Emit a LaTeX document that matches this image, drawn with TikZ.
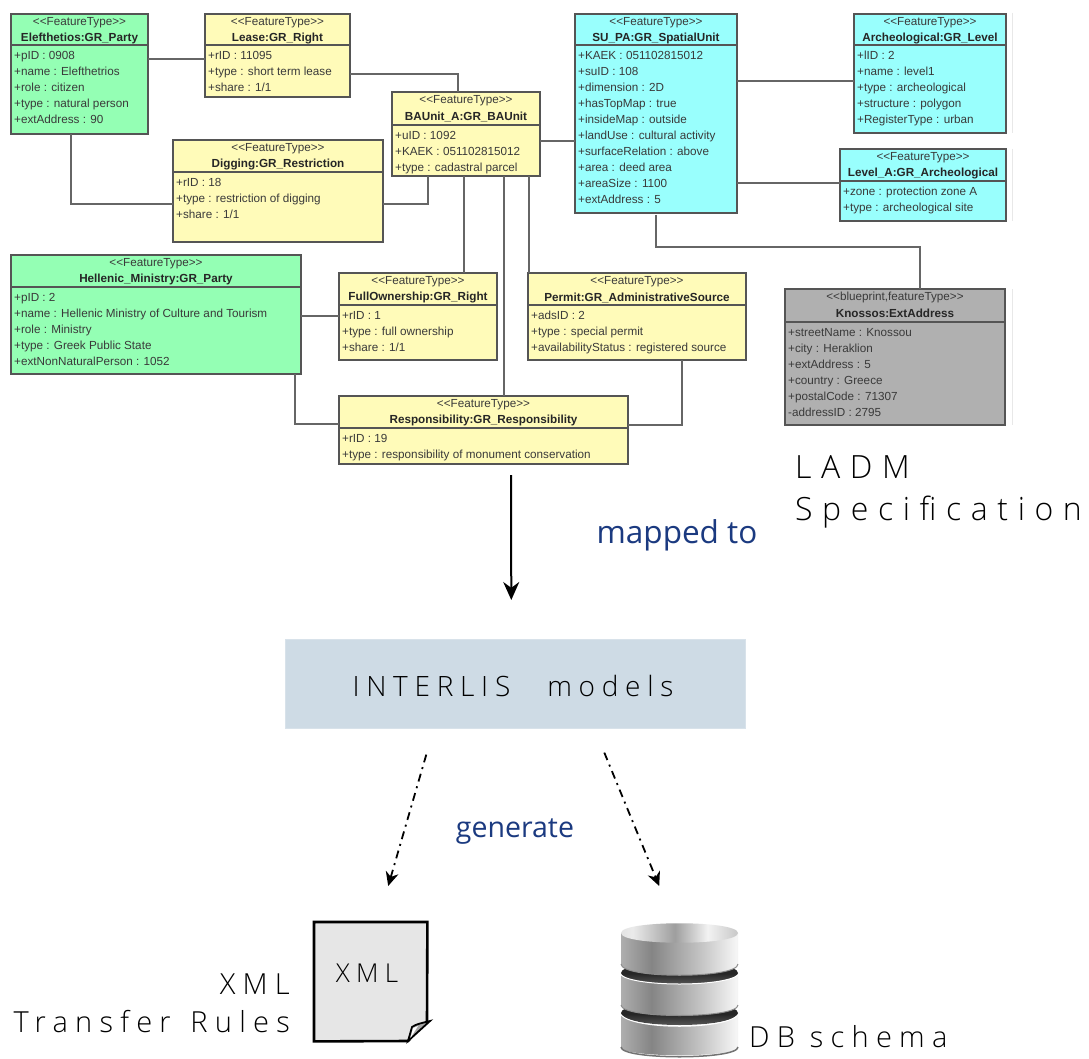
\documentclass[tikz,border=0pt]{standalone}
\usepackage{fontspec}
\setmainfont{Liberation Sans}
\newfontfamily\wideA[LetterSpace=30]{Open Sans Light}
\newfontfamily\wideB[LetterSpace=24]{Open Sans Light}
\newfontfamily\wideC[LetterSpace=25]{Open Sans Light}
\newfontfamily\plainblue{Open Sans}
\usetikzlibrary{arrows.meta,calc}
\definecolor{partyfill}{HTML}{94FFB4}
\definecolor{rightfill}{HTML}{FFFBB9}
\definecolor{spacefill}{HTML}{99FFFD}
\definecolor{addrfill}{HTML}{B0B0B0}
\definecolor{modelfill}{HTML}{CEDBE5}
\definecolor{linkgray}{HTML}{666666}
\definecolor{boxedge}{HTML}{555555}
\definecolor{attrtext}{HTML}{3A3A3A}
\definecolor{navytext}{HTML}{1B3A80}
\definecolor{docfill}{HTML}{E6E6E6}
\pgfdeclarehorizontalshading{dbside}{100bp}{
  color(0bp)=(white!88!black); color(22bp)=(white!72!black); color(38bp)=(white!52!black);
  color(60bp)=(white!78!black); color(74bp)=(white!96!black); color(90bp)=(white!86!black); color(100bp)=(white!60!black)}
\pgfdeclarehorizontalshading{dbtop}{100bp}{
  color(0bp)=(white!75!black); color(30bp)=(white!92!black); color(48bp)=(white!62!black);
  color(62bp)=(white!95!black); color(80bp)=(white!72!black); color(100bp)=(white!85!black)}
\pgfdeclareverticalshading{dbgap}{100bp}{
  color(0bp)=(black!35); color(50bp)=(black!85); color(100bp)=(black!85)}
\tikzset{
  uml/.style={draw=boxedge,line width=1.2pt,anchor=north west,inner sep=0pt,outer sep=0pt},
  stereo/.style={inner sep=0pt,text=attrtext,font=\fontsize{11.7}{14}\selectfont},
  umltitle/.style={inner sep=0pt,text=black!85,font=\fontsize{11.7}{14}\selectfont\bfseries},
  attrs/.style={inner sep=0pt,anchor=north west,align=left,text=attrtext,font=\fontsize{11.7}{16}\selectfont},
  link/.style={draw=linkgray,line width=1.3pt},
  flow/.style={draw=black,line width=2pt,-{Stealth[length=18pt,width=16pt]}},
  gen/.style={draw=black,line width=1.8pt,dash pattern=on 8pt off 5pt on 2pt off 5pt,-{Stealth[length=14pt,width=13pt]}},
  bigtext/.style={inner sep=0pt,anchor=west,text=black},
  bluetext/.style={inner sep=0pt,text=navytext},
  fainted/.style={draw=black!9,line width=1pt}
}
\newcommand{\umlbox}[9]{%
  \node[uml,fill=#6,minimum width=#3pt,minimum height=#4pt] (#1) at (#2) {};
  \draw[boxedge,line width=1.2pt] ([yshift=-#5pt]#1.north west) -- ([yshift=-#5pt]#1.north east);
  \node[stereo] (#1-s) at ([yshift=-8.5pt]#1.north) {#7};
  \node[umltitle] (#1-t) at ([yshift=-24.5pt]#1.north) {#8};
  \node[attrs] (#1-a) at ([xshift=3pt,yshift={-#5pt-3.3pt}]#1.north west) {\strut#9};
}
\begin{document}
\begin{tikzpicture}[x=1pt,y=-1pt]
\useasboundingbox (0,0) rectangle (1089,1059);
\fill[white] (0,0) rectangle (1089,1059);
\draw[fainted] (1012,13) -- (1012,133);
\draw[fainted] (1012,149) -- (1012,221);
\draw[fainted] (1012,289) -- (1012,425);

\umlbox{elef}{11,14}{137}{120}{31}{partyfill}{<{}<FeatureType>{}>}{Elefthetios:GR\_Party}{+pID : 0908\\+name : Elefthetrios\\+role : citizen\\+type : natural person\\+extAddress : 90}
\umlbox{lease}{205,14}{145}{83}{31}{rightfill}{<{}<FeatureType>{}>}{Lease:GR\_Right}{+rID : 11095\\+type : short term lease\\+share : 1/1}
\umlbox{dig}{173,140}{210}{102}{32}{rightfill}{<{}<FeatureType>{}>}{Digging:GR\_Restriction}{+rID : 18\\+type : restriction of digging\\+share : 1/1}
\umlbox{ba}{392,92}{148}{84}{33}{rightfill}{<{}<FeatureType>{}>}{BAUnit\_A:GR\_BAUnit}{+uID : 1092\\+KAEK : 051102815012\\+type : cadastral parcel}
\umlbox{su}{575,14}{162}{199}{31}{spacefill}{<{}<FeatureType>{}>}{SU\_PA:GR\_SpatialUnit}{+KAEK : 051102815012\\+suID : 108\\+dimension : 2D\\+hasTopMap : true\\+insideMap : outside\\+landUse : cultural activity\\+surfaceRelation : above\\+area : deed area\\+areaSize : 1100\\+extAddress : 5}
\umlbox{lev}{854,14}{152}{119}{31}{spacefill}{<{}<FeatureType>{}>}{Archeological:GR\_Level}{+lID : 2\\+name : level1\\+type : archeological\\+structure : polygon\\+RegisterType : urban}
\umlbox{leva}{840,149}{166}{72}{32}{spacefill}{<{}<FeatureType>{}>}{Level\_A:GR\_Archeological}{+zone : protection zone A\\+type : archeological site}
\umlbox{hel}{11,255}{290}{119}{32}{partyfill}{<{}<FeatureType>{}>}{Hellenic\_Ministry:GR\_Party}{+pID : 2\\+name : Hellenic Ministry of Culture and Tourism\\+role : Ministry\\+type : Greek Public State\\+extNonNaturalPerson : 1052}
\umlbox{full}{339,273}{158}{87}{32}{rightfill}{<{}<FeatureType>{}>}{FullOwnership:GR\_Right}{+rID : 1\\+type : full ownership\\+share : 1/1}
\umlbox{perm}{528,273}{218}{87}{32}{rightfill}{<{}<FeatureType>{}>}{Permit:GR\_AdministrativeSource}{+adsID : 2\\+type : special permit\\+availabilityStatus : registered source}
\umlbox{resp}{339,396}{289}{68}{32}{rightfill}{<{}<FeatureType>{}>}{Responsibility:GR\_Responsibility}{+rID : 19\\+type : responsibility of monument conservation}
\umlbox{knos}{785,289}{220}{136}{33}{addrfill}{<{}<blueprint,featureType>{}>}{Knossos:ExtAddress}{+streetName : Knossou\\+city : Heraklion\\+extAddress : 5\\+country : Greece\\+postalCode : 71307\\-addressID : 2795}

% connectors
\draw[link] (elef.east |- 0,59) -- (lease.west |- 0,59);
\draw[link] (lease.east |- 0,74) -- (458,74) -- (458,92);
\draw[link] (71,134) -- (71,204) -- (dig.west |- 0,204);
\draw[link] (dig.east |- 0,204) -- (428,204) -- (428,176);
\draw[link] (ba.east |- 0,141) -- (su.west |- 0,141);
\draw[link] (464,176) -- (464,273);
\draw[link] (504,176) -- (504,396);
\draw[link] (529,176) -- (529,273);
\draw[link] (su.east |- 0,81) -- (lev.west |- 0,81);
\draw[link] (su.east |- 0,183) -- (leva.west |- 0,183);
\draw[link] (656,215) -- (656,247) -- (920,247) -- (920,289);
\draw[link] (hel.east |- 0,316) -- (full.west |- 0,316);
\draw[link] (295,374) -- (295,424) -- (resp.west |- 0,424);
\draw[link] (682,360) -- (682,425) -- (resp.east |- 0,425);

% lower part
\node[fill=modelfill,draw=modelfill!80!white,line width=.6pt,minimum width=460pt,minimum height=89pt,anchor=north west,inner sep=0pt] (models) at (285,639) {};
\node[inner sep=0pt,font=\wideB\fontsize{28}{32}\selectfont,text=black] (modelstext) at (513,686) {INTERLIS\hspace{37pt}models};
\draw[flow] ([shift={(27.5,11)}]resp.south) -- ([shift={(-4,-39)}]models.north);
\node[bigtext,font=\wideA\fontsize{32}{36}\selectfont] (ladm) at (795,467) {LADM};
\node[bigtext,font=\wideA\fontsize{32}{36}\selectfont] (spec) at (795,512) {Specification};
\node[bluetext,font=\plainblue\fontsize{31.5}{38}\selectfont] (mapped) at (677,535) {mapped to};
\node[bluetext,font=\plainblue\fontsize{28.5}{34}\selectfont] (generate) at (515,832) {generate};

% xml document
\node[minimum width=113pt,minimum height=119pt,anchor=north west,inner sep=0pt] (xmldoc) at (314,922) {};
\draw[black,line width=2.6pt,fill=docfill,line join=miter] (xmldoc.north west) -- (xmldoc.north east) -- (427,1022) -- (408,1041) -- (xmldoc.south west) -- cycle;
\fill[white] (428.5,1021) -- (409.5,1040) -- (431,1043) -- cycle;
\draw[black,line width=1.8pt,fill=black!35] (408,1041) -- (412,1027) .. controls (416,1024) and (422,1023) .. (430,1021) -- cycle;
\fill[white] (410.5,1038) -- (413,1028) -- (418,1026) -- cycle;
\node[inner sep=0pt,font=\wideB\fontsize{26}{30}\selectfont,text=black] (xmlin) at (367,973) {XML};
\node[inner sep=0pt,anchor=east,font=\wideC\fontsize{29}{33}\selectfont,text=black] (xmlout) at (290,984) {XML};
\node[inner sep=0pt,anchor=east,font=\wideC\fontsize{29}{33}\selectfont,text=black] (transfer) at (290,1022) {Transfer\hspace{5pt} Rules};
\draw[gen] ([shift={(-89,26)}]models.south) -- ([shift={(17.5,-36)}]xmldoc.north);

% database
\node[minimum width=117pt,minimum height=135pt,anchor=north west,inner sep=0pt] (db) at (621,923) {};
% third disc
\path[shade,shading=dbgap] (621,1013) .. controls (621,999) and (738,999) .. (738,1013) .. controls (738,1029) and (621,1029) .. (621,1013) -- cycle;
\path[shade,shading=dbside] (621,1015) .. controls (635,1030) and (724,1030) .. (738,1015) -- (738,1047) .. controls (738,1058) and (621,1058) .. (621,1047) -- cycle;
\draw[black!55,line width=1.5pt] (621,1047) .. controls (621,1060) and (738,1060) .. (738,1047);
\draw[white,line width=1pt] (621,1015) .. controls (635,1030) and (724,1030) .. (738,1015);
% second disc
\path[shade,shading=dbgap] (621,973) .. controls (621,959) and (738,959) .. (738,973) .. controls (738,988) and (621,988) .. (621,973) -- cycle;
\path[shade,shading=dbside] (621,975) .. controls (635,987) and (724,987) .. (738,975) -- (738,1005) .. controls (738,1019) and (621,1019) .. (621,1005) -- cycle;
\draw[white,line width=1pt] (621,975) .. controls (635,987) and (724,987) .. (738,975);
\draw[black!45,line width=1pt] (621,1005) .. controls (621,1019) and (738,1019) .. (738,1005);
% top disc
\path[shade,shading=dbside] (621,933) -- (738,933) -- (738,964) .. controls (738,979) and (621,979) .. (621,964) -- cycle;
\draw[black!45,line width=1pt] (621,964) .. controls (621,979) and (738,979) .. (738,964);
\path[shade,shading=dbtop] (621,933) .. controls (621,920) and (738,920) .. (738,933) .. controls (738,946) and (621,946) .. (621,933) -- cycle;
\draw[gen] ([shift={(89,24)}]models.south) -- ([shift={(-20.5,-37)}]db.north);
\node[bigtext,font=\wideC\fontsize{29}{33}\selectfont] (dbs) at (749,1037) {DB schema};
\end{tikzpicture}
\end{document}
